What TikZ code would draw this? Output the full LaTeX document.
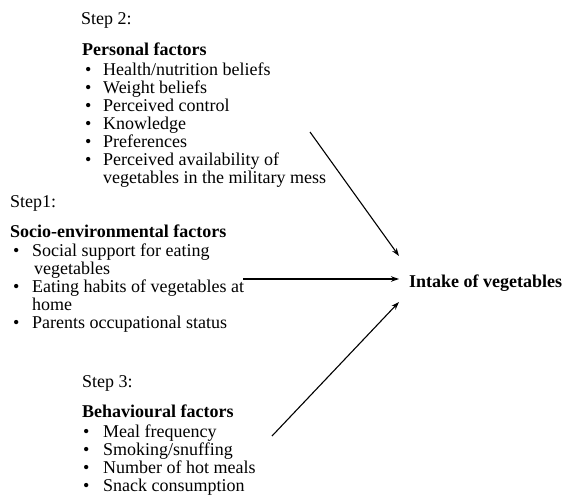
\documentclass[tikz,border=0pt]{standalone}
\usepackage{fontspec}
\setmainfont{Liberation Serif}
\usetikzlibrary{arrows.meta}
\newcommand\blt[2]{\makebox[#2][l]{\hspace*{#1}\textbullet}}
\begin{document}
\begin{tikzpicture}[x=1pt,y=-1pt,
  blk/.style={anchor=base west,inner sep=0pt,font=\fontsize{18}{18}\selectfont},
  arr/.style={line width=1.1pt,-{Stealth[length=8pt,width=5.5pt]}}]
\useasboundingbox (0,0) rectangle (564,497);
% Step 2 block
\node[blk] (step2) at (81,25) {\begin{tabular}[t]{@{}l@{}l@{}}
\multicolumn{2}{@{}l@{}}{Step 2:}\\[12pt]
\multicolumn{2}{@{}l@{}}{\hspace*{1pt}\textbf{Personal factors}}\\[2pt]
\blt{4pt}{22pt} & Health/nutrition beliefs\\
\blt{4pt}{22pt} & Weight beliefs\\
\blt{4pt}{22pt} & Perceived control\\
\blt{4pt}{22pt} & Knowledge\\
\blt{4pt}{22pt} & Preferences\\
\blt{4pt}{22pt} & Perceived availability of\\
 & vegetables in the military mess
\end{tabular}};
% Step 1 block
\node[blk] (step1) at (10,207) {\begin{tabular}[t]{@{}l@{}l@{}}
\multicolumn{2}{@{}l@{}}{Step1:}\\[12pt]
\multicolumn{2}{@{}l@{}}{\textbf{Socio-environmental factors}}\\[1pt]
\blt{3pt}{22pt} & Social support for eating\\
 & \hspace*{2pt}vegetables\\
\blt{3pt}{22pt} & Eating habits of vegetables at\\
 & home\\
\blt{3pt}{22pt} & Parents occupational status
\end{tabular}};
% Step 3 block
\node[blk] (step3) at (82,387) {\begin{tabular}[t]{@{}l@{}l@{}}
\multicolumn{2}{@{}l@{}}{Step 3:}\\[12pt]
\multicolumn{2}{@{}l@{}}{\textbf{Behavioural factors}}\\[2pt]
\blt{1pt}{21pt} & Meal frequency\\
\blt{1pt}{21pt} & Smoking/snuffing\\
\blt{1pt}{21pt} & Number of hot meals\\
\blt{1pt}{21pt} & Snack consumption
\end{tabular}};
% outcome
\node[blk,font=\fontsize{18}{18}\selectfont\bfseries] (intake) at (409,287) {Intake of vegetables};
% arrow start points
\coordinate (p1) at (310,132);
\coordinate (p2) at (243,279);
\coordinate (p3) at (272,436);
\draw[arr] (p1) -- ([xshift=-10pt,yshift=31pt]intake.base west);
\draw[arr] (p2) -- ([xshift=-10pt,yshift=8pt]intake.base west);
\draw[arr] (p3) -- ([xshift=-10pt,yshift=-15pt]intake.base west);
\end{tikzpicture}
\end{document}
